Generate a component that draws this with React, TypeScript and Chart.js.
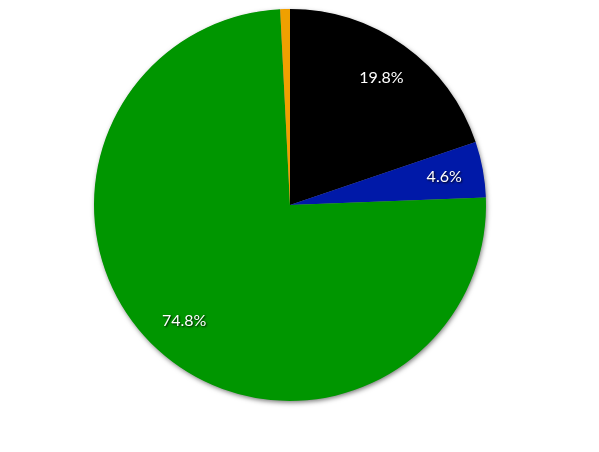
import React, { useEffect, useRef } from "react";
import { Chart, registerables } from "chart.js";

Chart.register(...registerables);

const categories = ["Black", "Blue", "Green", "Orange"];
const values = [19.8, 4.6, 74.8, 0.8];
const labels = ["19.8%", "4.6%", "74.8%", ""];
const colors = ["#000000", "#0019a8", "#009600", "#f0a000"];

const shadowPlugin = {
  id: "pieShadow",
  beforeDatasetsDraw(chart: any) {
    const meta = chart.getDatasetMeta(0);
    const arc = meta.data[0];
    if (!arc) return;
    const ctx = chart.ctx;
    ctx.save();
    ctx.shadowColor = "rgba(0,0,0,0.55)";
    ctx.shadowBlur = 5;
    ctx.shadowOffsetX = 1;
    ctx.shadowOffsetY = 2;
    ctx.fillStyle = "#888";
    ctx.beginPath();
    ctx.arc(arc.x, arc.y, arc.outerRadius - 0.5, 0, Math.PI * 2);
    ctx.fill();
    ctx.restore();
  },
  afterDatasetsDraw(chart: any) {
    const meta = chart.getDatasetMeta(0);
    const ctx = chart.ctx;
    ctx.save();
    ctx.font = '16px "Lato", "Open Sans", sans-serif';
    ctx.textAlign = "center";
    ctx.textBaseline = "middle";
    meta.data.forEach((a: any, i: number) => {
      const txt = labels[i];
      if (!txt) return;
      const mid = (a.startAngle + a.endAngle) / 2;
      const r = a.outerRadius * 0.8;
      const x = a.x + Math.cos(mid) * r;
      const y = a.y + Math.sin(mid) * r;
      ctx.shadowColor = "rgba(0,0,0,0.9)";
      ctx.shadowBlur = 2;
      ctx.shadowOffsetX = 1;
      ctx.shadowOffsetY = 1.5;
      ctx.fillStyle = "#ffffff";
      ctx.fillText(txt, x, y);
    });
    ctx.restore();
  },
};

export default function App() {
  const ref = useRef<HTMLCanvasElement>(null);
  useEffect(() => {
    document.body.style.margin = "0";
    const chart = new Chart(ref.current!, {
      type: "pie",
      data: {
        labels: categories,
        datasets: [
          {
            data: values,
            backgroundColor: colors,
            borderWidth: 0,
          },
        ],
      },
      options: {
        animation: false,
        responsive: false,
        layout: { padding: { top: 9, bottom: 51, left: 94, right: 113 } },
        plugins: { legend: { display: false }, tooltip: { enabled: false } },
      },
      plugins: [shadowPlugin],
    });
    return () => chart.destroy();
  }, []);
  return (
    <div style={{ width: 599, height: 452, background: "#fff" }}>
      <canvas ref={ref} width={599} height={452} style={{ display: "block" }} />
    </div>
  );
}
